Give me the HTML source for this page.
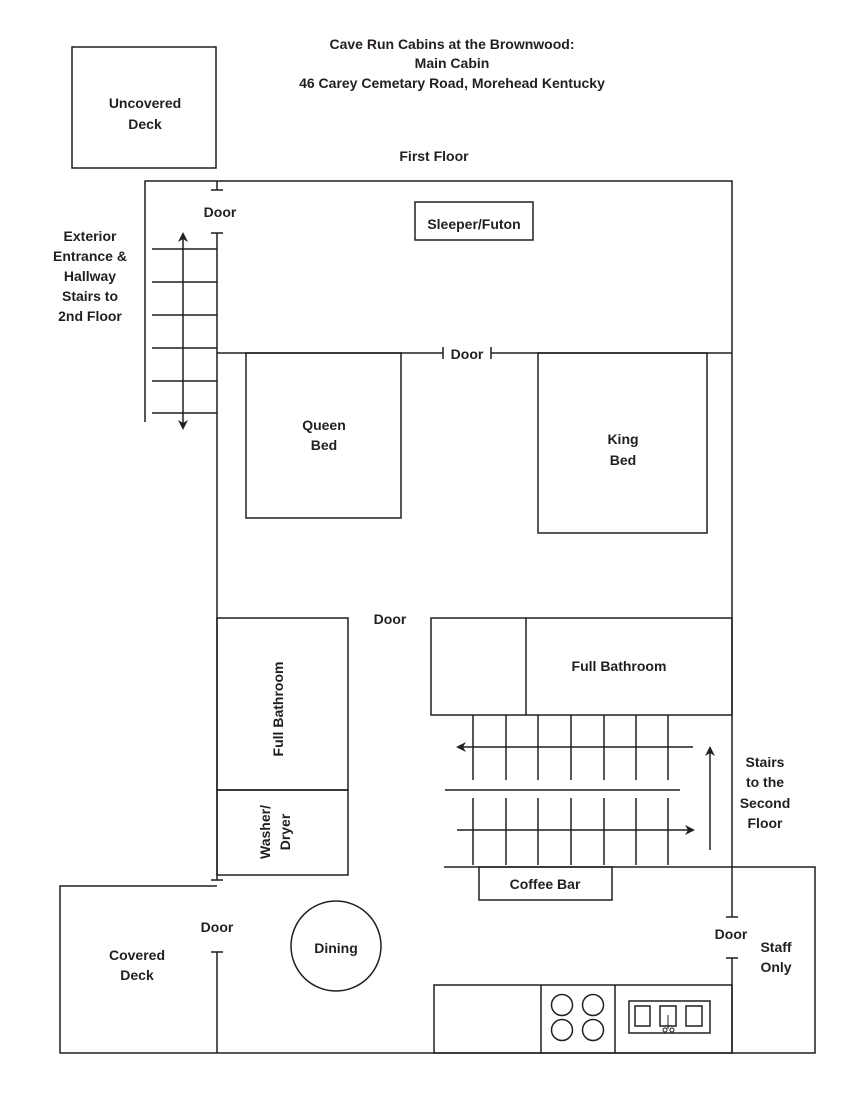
<!DOCTYPE html>
<html><head><style>body{margin:0;background:#fff}svg{display:block}text{font-family:"Liberation Sans",sans-serif;font-weight:bold;font-size:14px;fill:#231f20}</style></head><body>
<svg width="850" height="1100" viewBox="0 0 850 1100" xmlns="http://www.w3.org/2000/svg">
<defs><marker id="a" markerWidth="10" markerHeight="10" refX="8" refY="5" orient="auto-start-reverse" markerUnits="userSpaceOnUse"><path d="M0,0 L10,5 L0,10 L3,5z" fill="#231f20"/></marker></defs>
<g stroke="#231f20" stroke-width="1.5" fill="none">
<rect x="72" y="47" width="144" height="121"/>
<path d="M145 422V181H732V867"/>
<path d="M217 181V190M211 190H223M211 233H223M217 233V880M211 880H223M211 952H223M217 952V1053"/>
<path d="M152 249H217M152 282H217M152 315H217M152 348H217M152 381H217M152 413H217"/>
<path d="M183 234V428" marker-end="url(#a)" marker-start="url(#a)"/>
<path d="M217 353H443M443 347V359M491 347V359M491 353H732"/>
<rect x="246" y="353" width="155" height="165"/>
<rect x="538" y="353" width="169" height="180"/>
<rect x="415" y="202" width="118" height="38"/>
<rect x="217" y="618" width="131" height="172"/>
<rect x="217" y="790" width="131" height="85"/>
<rect x="431" y="618" width="301" height="97"/>
<path d="M526 618V715"/>
<path d="M473 715V780M506 715V780M538 715V780M571 715V780M604 715V780M636 715V780M668 715V780"/>
<path d="M473 798V865M506 798V865M538 798V865M571 798V865M604 798V865M636 798V865M668 798V865"/>
<path d="M445 790H680"/>
<path d="M693 747H458" marker-end="url(#a)"/>
<path d="M457 830H693" marker-end="url(#a)"/>
<path d="M710 850V748" marker-end="url(#a)"/>
<path d="M444 867H815V1053H60V886H217"/>
<path d="M732 867V917M726 917H738M726 958H738M732 958V1053"/>
<rect x="479" y="867" width="133" height="33"/>
<circle cx="336" cy="946" r="45"/>
<rect x="434" y="985" width="298" height="68"/>
<path d="M541 985V1053M615 985V1053"/>
<circle cx="562" cy="1005" r="10.5"/><circle cx="593" cy="1005" r="10.5"/><circle cx="562" cy="1030" r="10.5"/><circle cx="593" cy="1030" r="10.5"/>
<rect x="629" y="1001" width="81" height="32"/>
<rect x="635" y="1006" width="15" height="20"/><rect x="660" y="1006" width="16" height="20"/><rect x="686" y="1006" width="16" height="20"/>
<path d="M668 1015V1029" stroke-width="1"/><circle cx="665" cy="1030" r="2" stroke-width="1"/><circle cx="672" cy="1030" r="2" stroke-width="1"/>
</g>
<g text-anchor="middle">
<text x="452" y="49">Cave Run Cabins at the Brownwood:</text>
<text x="452" y="68">Main Cabin</text>
<text x="452" y="88">46 Carey Cemetary Road, Morehead Kentucky</text>
<text x="145" y="108">Uncovered</text><text x="145" y="129">Deck</text>
<text x="434" y="161">First Floor</text>
<text x="220" y="217">Door</text>
<text x="474" y="229">Sleeper/Futon</text>
<text x="90" y="241">Exterior</text><text x="90" y="261">Entrance &amp;</text><text x="90" y="281">Hallway</text><text x="90" y="301">Stairs to</text><text x="90" y="321">2nd Floor</text>
<text x="467" y="359">Door</text>
<text x="324" y="430">Queen</text><text x="324" y="450">Bed</text>
<text x="623" y="444">King</text><text x="623" y="465">Bed</text>
<text x="390" y="624">Door</text>
<text x="619" y="671">Full Bathroom</text>
<text x="765" y="767">Stairs</text><text x="765" y="787">to the</text><text x="765" y="808">Second</text><text x="765" y="828">Floor</text>
<text x="545" y="889">Coffee Bar</text>
<text x="217" y="932">Door</text>
<text x="336" y="953">Dining</text>
<text x="137" y="960">Covered</text><text x="137" y="980">Deck</text>
<text x="731" y="939">Door</text>
<text x="776" y="952">Staff</text><text x="776" y="972">Only</text>
<text transform="translate(283,709) rotate(-90)">Full Bathroom</text>
<text transform="translate(270,832) rotate(-90)">Washer/</text>
<text transform="translate(290,832) rotate(-90)">Dryer</text>
</g>
</svg>
</body></html>
